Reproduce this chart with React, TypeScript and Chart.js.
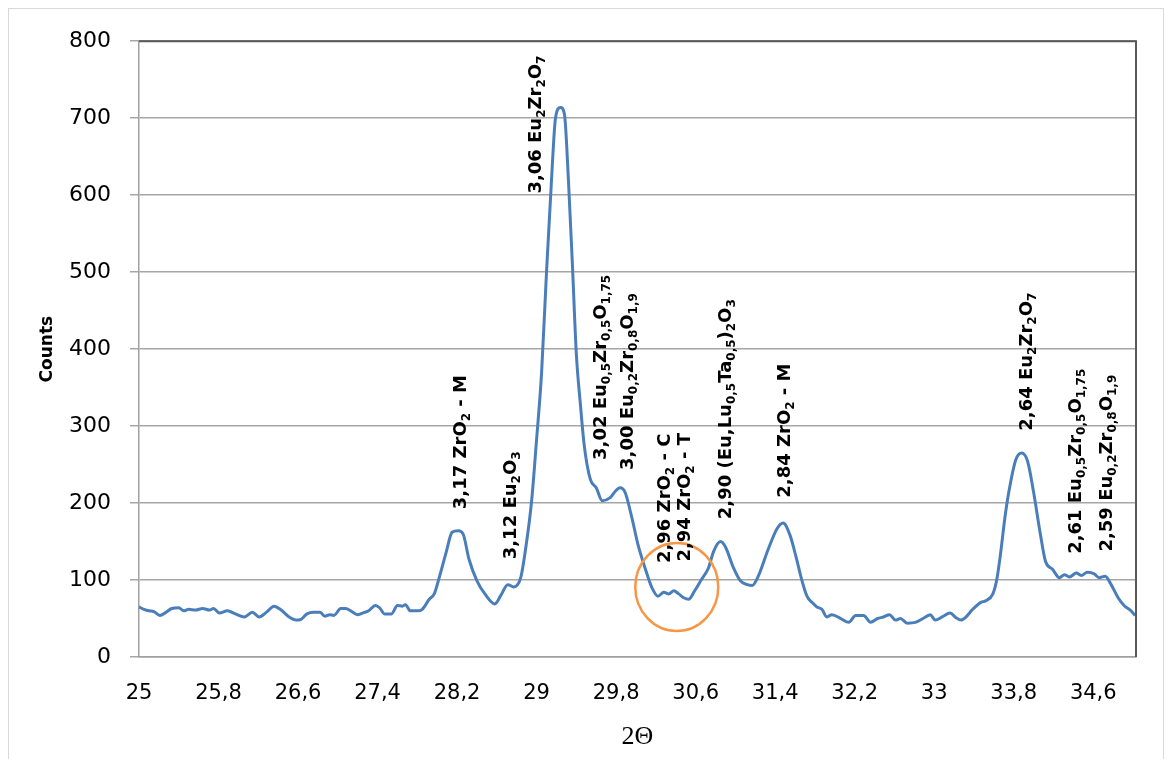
import React, { useEffect, useRef } from "react";
import { Chart, registerables } from "chart.js";

Chart.register(...registerables);

// 2θ positions (degrees) and counts
const twoTheta = [
  25.0, 25.05, 25.1, 25.15, 25.21, 25.27, 25.33, 25.4, 25.45, 25.5, 25.57, 25.64, 25.71, 25.75, 25.81, 25.89, 25.97,
  26.06, 26.14, 26.21, 26.28, 26.36, 26.43, 26.51, 26.58, 26.63, 26.69, 26.76, 26.82, 26.87, 26.92, 26.96,
  27.03, 27.08, 27.13, 27.2, 27.27, 27.31, 27.38, 27.42, 27.47, 27.54, 27.6, 27.65, 27.68, 27.73, 27.8, 27.85, 27.92, 27.97,
  28.02, 28.09, 28.15, 28.21, 28.26, 28.32, 28.4, 28.48, 28.58, 28.64, 28.71, 28.77, 28.84, 28.89, 28.95,
  29.0, 29.05, 29.1, 29.15, 29.19, 29.24, 29.28, 29.32, 29.36, 29.4, 29.44, 29.48, 29.54, 29.6, 29.66, 29.74, 29.79, 29.84, 29.89, 29.96,
  30.02, 30.09, 30.16, 30.22, 30.28, 30.33, 30.38, 30.43, 30.48, 30.53, 30.59, 30.66, 30.73, 30.78, 30.85, 30.9, 30.98,
  31.05, 31.12, 31.17, 31.23, 31.33, 31.42, 31.48, 31.55, 31.61, 31.67, 31.72, 31.77, 31.82, 31.87, 31.92, 31.97,
  32.06, 32.14, 32.21, 32.29, 32.36, 32.43, 32.49, 32.55, 32.61, 32.66, 32.73, 32.81, 32.9, 32.96,
  33.01, 33.08, 33.16, 33.22, 33.27, 33.32, 33.38, 33.47, 33.52, 33.59, 33.63, 33.67, 33.71, 33.75, 33.82, 33.88, 33.94,
  34.0, 34.07, 34.12, 34.19, 34.26, 34.31, 34.36, 34.43, 34.48, 34.54, 34.61, 34.66, 34.72, 34.78, 34.85, 34.91, 34.98, 35.02,
];

const counts = [
  65, 62, 60, 59, 54, 58, 63, 64, 60, 62, 61, 63, 61, 63, 57, 60, 56,
  52, 58, 52, 58, 66, 61, 52, 48, 49, 56, 58, 58, 53, 55, 54,
  63, 63, 60, 55, 58, 60, 67, 64, 56, 56, 67, 66, 68, 60, 60, 62, 75, 82,
  103, 136, 162, 164, 160, 127, 99, 82, 69, 80, 94, 91, 103, 141, 203,
  283, 369, 501, 620, 700, 714, 705, 620, 510, 393, 329, 274, 231, 220, 203, 207, 215, 220, 214, 180,
  146, 116, 90, 79, 84, 82, 86, 82, 77, 75, 86, 101, 116, 137, 150, 143, 116,
  99, 94, 93, 105, 140, 167, 174, 158, 130, 99, 79, 71, 65, 62, 52, 55,
  50, 45, 54, 54, 45, 50, 52, 55, 48, 50, 44, 45, 51, 55,
  48, 52, 57, 51, 48, 52, 61, 71, 73, 82, 101, 137, 180, 214, 256, 265, 254,
  214, 158, 124, 114, 103, 107, 104, 109, 106, 110, 108, 103, 105, 94, 77, 67, 60, 54,
];

const xTickValues = [25, 25.8, 26.6, 27.4, 28.2, 29, 29.8, 30.6, 31.4, 32.2, 33, 33.8, 34.6];

// Peak annotations: d-spacing + phase; _{...} marks subscripts
const peakLabelTexts = [
  "3,17 ZrO_{2} - M",
  "3,12 Eu_{2}O_{3}",
  "3,06 Eu_{2}Zr_{2}O_{7}",
  "3,02 Eu_{0,5}Zr_{0,5}O_{1,75}",
  "3,00 Eu_{0,2}Zr_{0,8}O_{1,9}",
  "2,96 ZrO_{2} - C",
  "2,94 ZrO_{2} - T",
  "2,90 (Eu,Lu_{0,5}Ta_{0,5})_{2}O_{3}",
  "2,84 ZrO_{2} - M",
  "2,64 Eu_{2}Zr_{2}O_{7}",
  "2,61 Eu_{0,5}Zr_{0,5}O_{1,75}",
  "2,59 Eu_{0,2}Zr_{0,8}O_{1,9}",
];
const peakLabelTheta = [28.29, 28.79, 29.04, 29.7, 29.97, 30.34, 30.54, 30.96, 31.55, 33.98, 34.48, 34.79];
const peakLabelCounts = [192, 127, 602, 256, 243, 122, 124, 179, 207, 294, 134, 137];

// Highlight circle around the ZrO2 C/T region
const highlightTheta = 30.41;
const highlightCounts = 91;

function parseRich(s: string) {
  const out: { t: string; sub: boolean }[] = [];
  const re = /_\{([^}]*)\}/g;
  let last = 0;
  let m: RegExpExecArray | null;
  while ((m = re.exec(s)) !== null) {
    if (m.index > last) out.push({ t: s.slice(last, m.index), sub: false });
    out.push({ t: m[1], sub: true });
    last = re.lastIndex;
  }
  if (last < s.length) out.push({ t: s.slice(last), sub: false });
  return out;
}

const overlayPlugin = {
  id: "xrdOverlay",
  afterDatasetsDraw(chart: any) {
    const { ctx, chartArea, scales } = chart;
    const x = scales.x;
    const y = scales.y;
    ctx.save();
    // plot-area top and right border
    ctx.strokeStyle = "#595959";
    ctx.lineWidth = 2;
    ctx.beginPath();
    ctx.moveTo(chartArea.left, chartArea.top);
    ctx.lineTo(chartArea.right, chartArea.top);
    ctx.lineTo(chartArea.right, chartArea.bottom);
    ctx.stroke();

    // highlight ellipse
    const cx = x.getPixelForValue(highlightTheta);
    const cy = y.getPixelForValue(highlightCounts);
    ctx.strokeStyle = "#f79646";
    ctx.lineWidth = 2.5;
    ctx.beginPath();
    ctx.ellipse(cx, cy, 41.5, 44, 0, 0, Math.PI * 2);
    ctx.stroke();

    // rotated peak labels
    ctx.fillStyle = "#000";
    ctx.textAlign = "left";
    ctx.textBaseline = "alphabetic";
    peakLabelTexts.forEach((txt, i) => {
      const px = x.getPixelForValue(peakLabelTheta[i]);
      const py = y.getPixelForValue(peakLabelCounts[i]);
      ctx.save();
      ctx.translate(px, py);
      ctx.rotate(-Math.PI / 2);
      let pos = 0;
      for (const seg of parseRich(txt)) {
        ctx.font = seg.sub ? 'bold 12px "DejaVu Sans"' : 'bold 18px "DejaVu Sans"';
        ctx.fillText(seg.t, pos, seg.sub ? 4 : 0);
        pos += ctx.measureText(seg.t).width;
      }
      ctx.restore();
    });
    ctx.restore();
  },
};

export default function App() {
  const ref = useRef<HTMLCanvasElement>(null);

  useEffect(() => {
    if (!ref.current) return;
    const points = twoTheta.map((t, i) => ({ x: t, y: counts[i] }));
    const chart = new Chart(ref.current, {
      type: "line",
      data: {
        datasets: [
          {
            label: "Counts",
            data: points,
            borderColor: "#4a7ebb",
            borderWidth: 3,
            pointRadius: 0,
            fill: false,
            cubicInterpolationMode: "monotone",
          },
        ],
      },
      options: {
        responsive: false,
        animation: false,
        layout: { padding: { left: 0, top: 23, right: 27, bottom: 0 } },
        plugins: {
          legend: { display: false },
          tooltip: { enabled: false },
        },
        scales: {
          x: {
            type: "linear",
            min: 25,
            max: 35.03,
            afterBuildTicks: (s: any) => {
              s.ticks = xTickValues.map((v) => ({ value: v }));
            },
            afterFit: (s: any) => {
              s.height = 102;
            },
            ticks: {
              autoSkip: false,
              maxRotation: 0,
              padding: 24,
              color: "#000",
              font: { family: '"DejaVu Sans"', size: 21 },
              callback: (v: any) => String(Math.round(Number(v) * 10) / 10).replace(".", ","),
            },
            grid: { display: false, drawTicks: false },
            border: { display: true, color: "#a0a0a0", width: 1.5 },
            title: {
              display: true,
              text: "2Θ",
              color: "#000",
              font: { family: '"Liberation Serif"', size: 26 },
              padding: { top: 0, bottom: 6 },
            },
          },
          y: {
            min: 0,
            max: 800,
            afterFit: (s: any) => {
              s.width = 130;
            },
            ticks: {
              stepSize: 100,
              padding: 19,
              color: "#000",
              font: { family: '"DejaVu Sans"', size: 22 },
            },
            grid: { color: "#a6a6a6", lineWidth: 1.5, drawTicks: true, tickLength: 9 },
            border: { display: true, color: "#a0a0a0", width: 1.5 },
            title: {
              display: true,
              text: "Counts",
              color: "#000",
              font: { family: '"DejaVu Sans"', size: 17, weight: "bold" },
              padding: { top: 28, bottom: 0 },
            },
          },
        },
      },
      plugins: [overlayPlugin],
    });
    return () => chart.destroy();
  }, []);

  return (
    <div
      style={{
        width: 1154,
        height: 750,
        border: "1px solid #d9d9d9",
        borderBottom: "none",
        background: "#fff",
        overflow: "hidden",
      }}
    >
      <canvas ref={ref} width={1154} height={750} style={{ display: "block", width: 1154, height: 750 }} />
    </div>
  );
}
